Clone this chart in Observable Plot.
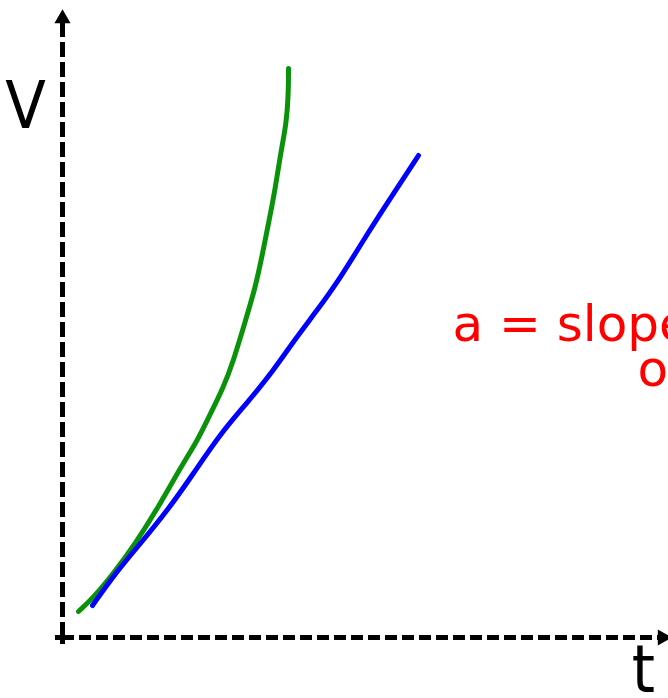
<!DOCTYPE html>
<html>
<head>
<meta charset="utf-8">
<script src="https://cdn.jsdelivr.net/npm/d3@7"></script>
<script src="https://cdn.jsdelivr.net/npm/@observablehq/plot@0.6"></script>
<style>
  html, body { margin: 0; padding: 0; background: #fff; }
  svg { display: block; }
</style>
</head>
<body>
<div id="chart"></div>
<script>
// Green curve (steeper, increasing acceleration): time t, velocity v
const greenT = [16, 31, 51, 73, 98, 118, 135, 146, 161, 171, 180, 193, 200, 206, 213, 218, 224, 226, 226];
const greenV = [26, 40, 64, 94, 134, 170, 197, 220, 250, 277, 307, 350, 384, 414, 450, 484, 514, 547, 569];

// Blue curve (nearly constant acceleration)
const blueT = [30, 55, 78, 105, 131, 158, 185, 211, 233, 253, 277, 305, 331, 356];
const blueV = [32, 67, 94, 127, 164, 204, 235, 267, 299, 325, 358, 404, 444, 482];

// Axis extents
const tMax = 606;
const vMax = 627;

// Labels
const axisLabels = [
  {t: -37, v: 510, text: "V"},
  {t: 581, v: -54, text: "t"}
];
const noteLines = [
  {t: 390, v: 297, text: "a = slope"},
  {t: 575, v: 252, text: "of v-t"}
];

const green = greenT.map((t, i) => ({t, v: greenV[i]}));
const blue = blueT.map((t, i) => ({t, v: blueV[i]}));

const chart = Plot.plot({
  width: 668,
  height: 698,
  marginLeft: 62,
  marginRight: 0,
  marginTop: 10,
  marginBottom: 61,
  x: {domain: [0, tMax], axis: null},
  y: {domain: [0, vMax], axis: null},
  style: {background: "white"},
  marks: [
    // dashed axes
    Plot.ruleY([0], {x1: 0, x2: tMax - 10, stroke: "black", strokeWidth: 5, strokeDasharray: "12,5"}),
    Plot.ruleX([0], {y1: 0, y2: vMax - 12, stroke: "black", strokeWidth: 5, strokeDasharray: "15,5"}),
    // origin cross
    Plot.ruleY([0], {x1: -7, x2: 7, stroke: "black", strokeWidth: 5}),
    Plot.ruleX([0], {y1: -7, y2: 7, stroke: "black", strokeWidth: 5}),
    // arrowheads
    Plot.dot([{t: 0, v: vMax - 8}], {x: "t", y: "v", symbol: "triangle", r: 6, fill: "black", stroke: "none"}),
    Plot.dot([{t: tMax - 6, v: 0}], {x: "t", y: "v", symbol: "triangle", r: 6, fill: "black", stroke: "none", rotate: 90}),
    // curves
    Plot.line(green, {x: "t", y: "v", stroke: "#0a930a", strokeWidth: 5, curve: "basis", strokeLinecap: "round", strokeLinejoin: "round"}),
    Plot.line(blue, {x: "t", y: "v", stroke: "#0000ff", strokeWidth: 5, curve: "basis", strokeLinecap: "round", strokeLinejoin: "round"}),
    // axis labels
    Plot.text(axisLabels, {x: "t", y: "v", text: "text", fontSize: 66, fill: "black", fontFamily: "DejaVu Sans Condensed, DejaVu Sans", textAnchor: "middle", lineAnchor: "bottom"}),
    // red annotation
    Plot.text(noteLines, {x: "t", y: "v", text: "text", fontSize: 50, fill: "#ff0000", fontFamily: "DejaVu Sans", textAnchor: "start", lineAnchor: "bottom"})
  ]
});

document.getElementById("chart").appendChild(chart);
</script>
</body>
</html>
